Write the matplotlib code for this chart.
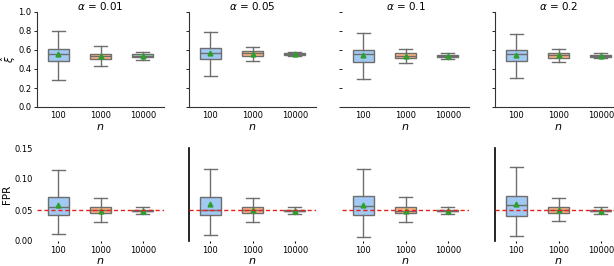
import matplotlib.pyplot as plt
import numpy as np

# values
alphas = ['0.01', '0.05', '0.1', '0.2']
ns = ['100', '1000', '10000']
colors = ['#a1c9f4', '#ffb482', '#8de5a1']

# xi hat: per alpha, per n -> (low whisker, q1, median, q3, high whisker, mean)
xi_stats = [
    [(0.288, 0.488, 0.561, 0.614, 0.800, 0.555),
     (0.428, 0.505, 0.537, 0.561, 0.646, 0.540),
     (0.498, 0.526, 0.537, 0.554, 0.579, 0.540)],
    [(0.330, 0.509, 0.565, 0.621, 0.789, 0.568),
     (0.481, 0.540, 0.565, 0.586, 0.635, 0.561),
     (0.533, 0.551, 0.561, 0.568, 0.579, 0.555)],
    [(0.298, 0.477, 0.554, 0.604, 0.782, 0.544),
     (0.460, 0.519, 0.540, 0.565, 0.614, 0.540),
     (0.509, 0.526, 0.537, 0.544, 0.565, 0.535)],
    [(0.309, 0.488, 0.554, 0.604, 0.772, 0.548),
     (0.470, 0.519, 0.544, 0.568, 0.614, 0.544),
     (0.519, 0.526, 0.537, 0.547, 0.565, 0.537)],
]

# FPR
fpr_stats = [
    [(0.0118, 0.0423, 0.0546, 0.0707, 0.114, 0.0584),
     (0.0305, 0.0450, 0.0498, 0.0541, 0.0686, 0.0490),
     (0.0439, 0.0477, 0.0490, 0.0504, 0.0546, 0.0480)],
    [(0.0102, 0.0418, 0.0500, 0.0707, 0.116, 0.0595),
     (0.0305, 0.0455, 0.0500, 0.0546, 0.0691, 0.0500),
     (0.0439, 0.0477, 0.0490, 0.0500, 0.0546, 0.0480)],
    [(0.0064, 0.0418, 0.0568, 0.0729, 0.116, 0.0580),
     (0.0305, 0.0450, 0.0490, 0.0546, 0.0713, 0.0490),
     (0.0439, 0.0477, 0.0490, 0.0504, 0.0546, 0.0477)],
    [(0.0086, 0.0402, 0.0573, 0.0729, 0.119, 0.0589),
     (0.0321, 0.0450, 0.0498, 0.0546, 0.0690, 0.0498),
     (0.0439, 0.0477, 0.0487, 0.0500, 0.0546, 0.0482)],
]
target_fpr = 0.05


def to_dicts(rows):
    out = []
    for lo, q1, med, q3, hi, mean in rows:
        out.append(dict(whislo=lo, q1=q1, med=med, q3=q3, whishi=hi,
                        mean=mean, fliers=[]))
    return out


def draw(ax, rows):
    edge = '#6e6e6e'
    bp = ax.bxp(to_dicts(rows), positions=np.arange(len(ns)), widths=0.5,
                capwidths=0.3, showmeans=True, patch_artist=True,
                boxprops=dict(edgecolor=edge, linewidth=1.0),
                medianprops=dict(color=edge, linewidth=1.0),
                whiskerprops=dict(color=edge, linewidth=1.0),
                capprops=dict(color=edge, linewidth=1.0),
                meanprops=dict(marker='^', markerfacecolor='#2ca02c',
                               markeredgecolor='#2ca02c', markersize=3.5))
    for patch, c in zip(bp['boxes'], colors):
        patch.set_facecolor(c)
    ax.set_xlim(-0.5, 2.5)
    ax.set_xticks(np.arange(len(ns)))
    ax.set_xticklabels(ns)
    ax.set_xlabel('$n$', fontsize=8, labelpad=1)


fig = plt.figure(figsize=(6.14, 2.66), dpi=100)
lefts = [37, 189, 342, 495]
W = 127 / 614

for i, a in enumerate(alphas):
    # top row: xi hat
    ax = fig.add_axes([lefts[i] / 614, 1 - 107 / 266, W, 95 / 266])
    draw(ax, xi_stats[i])
    ax.set_ylim(0, 1.0)
    ax.set_yticks(np.arange(0, 1.01, 0.2))
    ax.set_title(r'$\alpha$ = ' + a, fontsize=7.5, pad=1.5)
    for s in ['top', 'right']:
        ax.spines[s].set_visible(False)
    ax.spines['left'].set_color('#333333')
    ax.spines['bottom'].set_color('#333333')
    if i == 2:
        ax.spines['left'].set_visible(False)
    ax.tick_params(axis='x', length=0, labelsize=6, pad=3)
    ax.tick_params(axis='y', length=2, labelsize=6, width=0.6, pad=2)
    if i == 0:
        ax.set_ylabel(r'$\hat{\xi}$', fontsize=7.5, labelpad=0)
    else:
        ax.set_yticklabels([])

    # bottom row: FPR
    ax = fig.add_axes([lefts[i] / 614, 1 - 241 / 266, W, 93 / 266])
    ax.axhline(target_fpr, color='#e8201d', linestyle='--', linewidth=1.0,
               dashes=(3, 2), zorder=3)
    draw(ax, fpr_stats[i])
    ax.set_ylim(0, 0.15)
    ax.set_yticks([0, 0.05, 0.10, 0.15])
    for s in ['top', 'right', 'bottom']:
        ax.spines[s].set_visible(False)
    if i in (0, 2):
        ax.spines['left'].set_visible(False)
    else:
        ax.spines['left'].set_color('black')
        ax.spines['left'].set_linewidth(1.2)
    ax.tick_params(axis='x', length=1.5, labelsize=6, pad=2)
    ax.tick_params(axis='y', length=0, labelsize=6, pad=3)
    if i == 0:
        ax.set_yticklabels(['0.00', '0.05', '0.10', '0.15'])
        ax.set_ylabel('FPR', fontsize=7.5, labelpad=2)
    else:
        ax.set_yticklabels([])

fig.savefig('out.png', dpi=100)
